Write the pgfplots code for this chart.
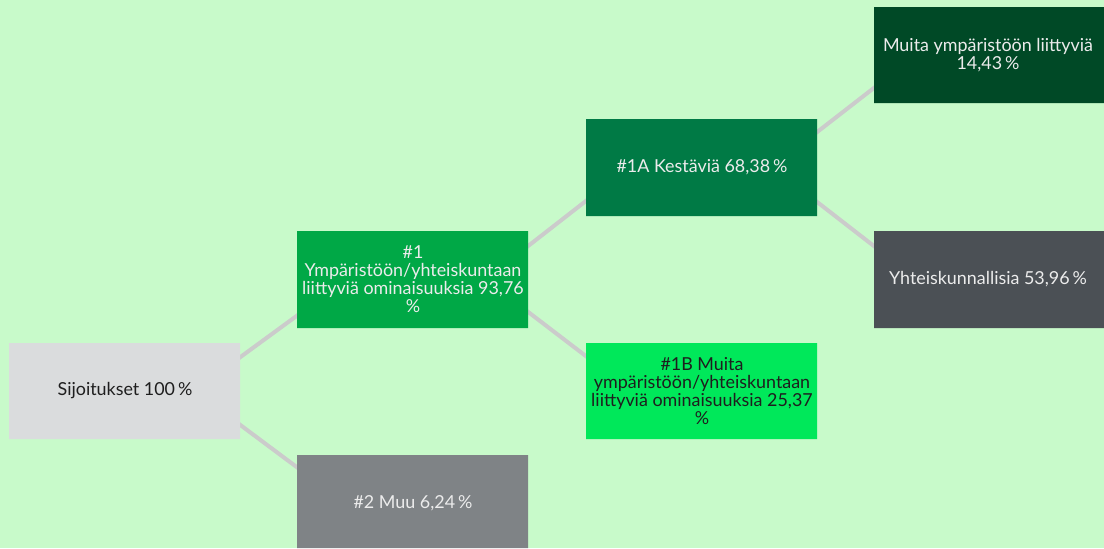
\documentclass[border=0pt]{standalone}
\usepackage{pgfplots}
\pgfplotsset{compat=1.18}
\usepackage{fontspec}
\setmainfont{Lato}
\definecolor{bg}{HTML}{C8FACA}
\definecolor{ln}{HTML}{CBCBCB}
\definecolor{cRoot}{HTML}{DADCDD}
\definecolor{cMuu}{HTML}{7F8386}
\definecolor{cOne}{HTML}{00A846}
\definecolor{cOneA}{HTML}{007A45}
\definecolor{cOneB}{HTML}{00E85A}
\definecolor{cEnv}{HTML}{004926}
\definecolor{cSoc}{HTML}{4B5055}
\definecolor{lt}{HTML}{ECECEC}
\definecolor{dk}{HTML}{1E1E1E}
\tikzset{lbl/.style={font=\fontsize{8.95pt}{9pt}\selectfont, align=center, inner sep=0pt}}
\begin{document}
\begin{tikzpicture}
\begin{axis}[
  scale only axis, width=552pt, height=274pt,
  xmin=0, xmax=1104, ymin=0, ymax=548, y dir=reverse,
  axis lines=none, clip=false,
  axis background/.style={fill=bg},
]
% connectors
\addplot[ln, line width=2pt] coordinates {(235,361) (302,312)};
\addplot[ln, line width=2pt] coordinates {(235,421) (302,471)};
\addplot[ln, line width=2pt] coordinates {(523,250) (591,197)};
\addplot[ln, line width=2pt] coordinates {(523,308) (591,360)};
\addplot[ln, line width=2pt] coordinates {(812,136) (879,84)};
\addplot[ln, line width=2pt] coordinates {(812,198) (879,250)};
% boxes
\addplot[draw=none, fill=cRoot] coordinates {(9,343) (240,343) (240,439) (9,439) (9,343)};
\addplot[draw=none, fill=cMuu] coordinates {(297,455) (528,455) (528,548) (297,548) (297,455)};
\addplot[draw=none, fill=cOne] coordinates {(297,231) (528,231) (528,328) (297,328) (297,231)};
\addplot[draw=none, fill=cOneA] coordinates {(586,119) (817,119) (817,216) (586,216) (586,119)};
\addplot[draw=none, fill=cOneB] coordinates {(586,343) (817,343) (817,439) (586,439) (586,343)};
\addplot[draw=none, fill=cEnv] coordinates {(874,7) (1104,7) (1104,103) (874,103) (874,7)};
\addplot[draw=none, fill=cSoc] coordinates {(874,231) (1104,231) (1104,328) (874,328) (874,231)};
% labels
\node[lbl, text=dk] at (axis cs:125,391) {Sijoitukset 100\,\%};
\node[lbl, text=lt] at (axis cs:413,503) {\#2 Muu 6,24\,\%};
\node[lbl, text=lt] at (axis cs:413,279) {\#1\\Ympäristöön/yhteiskuntaan\\liittyviä ominaisuuksia 93,76\\\%};
\node[lbl, text=lt] at (axis cs:702,167) {\#1A Kestäviä 68,38\,\%};
\node[lbl, text=dk] at (axis cs:702,391) {\#1B Muita\\ympäristöön/yhteiskuntaan\\liittyviä ominaisuuksia 25,37\\\%};
\node[lbl, text=lt] at (axis cs:988,55) {Muita ympäristöön liittyviä\\14,43\,\%};
\node[lbl, text=lt] at (axis cs:988,279) {Yhteiskunnallisia 53,96\,\%};
\end{axis}
\end{tikzpicture}
\end{document}
